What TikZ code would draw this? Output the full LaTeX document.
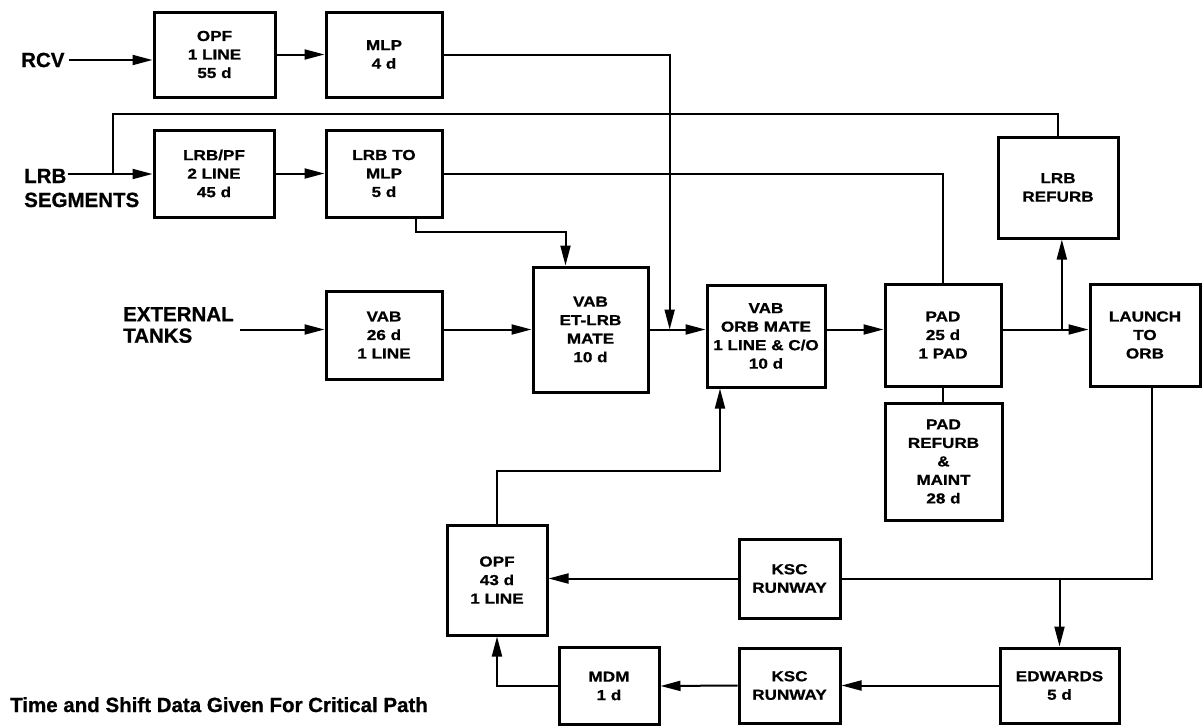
\documentclass[tikz,border=0pt]{standalone}
\usepackage{fontspec}
\setmainfont{Liberation Sans}
\newfontfamily\boxfont[FakeStretch=1.18,FakeBold=0.8]{Liberation Sans Bold}
\newfontfamily\lblfont[FakeBold=0.8]{Liberation Sans Bold}
\usetikzlibrary{positioning, calc, arrows.meta}

\tikzset{
  stage/.style={draw, line width=3pt, inner sep=2pt, align=center,
                font=\boxfont\fontsize{14.5}{18.5}\selectfont},
  flow/.style={line width=2pt, -{Triangle[length=20pt,width=10pt]}},
  link/.style={line width=2pt},
  lbl/.style={inner sep=0pt, font=\lblfont\fontsize{20.5}{21.5}\selectfont},
}

\begin{document}
\begin{tikzpicture}[x=1pt, y=-1pt]
\useasboundingbox (0,0) rectangle (1203,726);

% inputs
\node[lbl, anchor=west] (rcv) at (21,60) {RCV};
\node[lbl, anchor=base west] (lrb) at (24,183) {LRB};
\node[lbl, anchor=base west] (seg) at (24,207) {SEGMENTS};
\node[lbl, anchor=west, align=left] (ext) at (123,325) {EXTERNAL\\TANKS};

% stages
\node[stage, minimum width=121pt, minimum height=85pt] (opfa) at (214.5,54.5) {OPF\\1 LINE\\55 d};
\node[stage, minimum width=116pt, minimum height=85pt] (mlp) at (384,54.5) {MLP\\4 d};
\node[stage, minimum width=120pt, minimum height=87pt] (lrbpf) at (214,173.5) {LRB/PF\\2 LINE\\45 d};
\node[stage, minimum width=116pt, minimum height=87pt] (lrbmlp) at (384,173.5) {LRB TO\\MLP\\5 d};
\node[stage, minimum width=116pt, minimum height=88pt] (vabet) at (384,335) {VAB\\26 d\\1 LINE};
\node[stage, minimum width=115pt, minimum height=125pt] (etlrb) at (590.5,329.5) {VAB\\ET-LRB\\MATE\\10 d};
\node[stage, minimum width=118pt, minimum height=102pt] (orbmate) at (766,336) {VAB\\ORB MATE\\1 LINE \& C/O\\10 d};
\node[stage, minimum width=116pt, minimum height=102pt] (pad) at (943,335) {PAD\\25 d\\1 PAD};
\node[stage, minimum width=120pt, minimum height=101pt] (lrbref) at (1058,187.5) {LRB\\REFURB};
\node[stage, minimum width=110pt, minimum height=102pt] (launch) at (1145,335) {LAUNCH\\TO\\ORB};
\node[stage, minimum width=117pt, minimum height=117pt] (padref) at (943.5,461.5) {PAD\\REFURB\\\&\\MAINT\\28 d};
\node[stage, minimum width=101pt, minimum height=79pt] (ksca) at (789.5,578.5) {KSC\\RUNWAY};
\node[stage, minimum width=100pt, minimum height=110pt] (opfb) at (497,580) {OPF\\43 d\\1 LINE};
\node[stage, minimum width=119pt, minimum height=75pt] (edw) at (1059.5,685.5) {EDWARDS\\5 d};
\node[stage, minimum width=101pt, minimum height=75pt] (kscb) at (789.5,685.5) {KSC\\RUNWAY};
\node[stage, minimum width=100pt, minimum height=77pt] (mdm) at (609,686) {MDM\\1 d};

\node[lbl, anchor=base west] (note) at (10,712) {Time and Shift Data Given For Critical Path};

% junctions
\coordinate (lrbsplit) at (113,174);
\coordinate (extout) at ([xshift=6pt]ext.east);
\coordinate (etjoin) at ($(etlrb.east)!0.36!(etlrb.east -| orbmate.west)$);
\coordinate (padjoin) at ($(pad.east |- etjoin)!0.69!(launch.west |- etjoin)$);
\coordinate (rwjoin) at (edw.north |- ksca.east);

% top rows
\draw[flow] ([xshift=4pt]rcv.east) -- (rcv.east -| opfa.west);
\draw[flow] (opfa.east |- mlp.east) -- (mlp.west);
\draw[flow] ([xshift=1pt]lrb.east |- lrbsplit) -- (lrbsplit -| lrbpf.west);
\draw[flow] (lrbpf.east) -- (lrbmlp.west);
\draw[link] (lrbsplit) -- ++(0,-60) -| (lrbref.north);
\draw[flow] (mlp.east) -| (etjoin);
\draw[link] (lrbmlp.east) -| (pad.north);
\draw[flow] ([xshift=32pt]lrbmlp.south) -- ++(0,13) -| ([xshift=-25pt]etlrb.north);

% main line
\draw[flow] (extout |- etjoin) -- (vabet.west |- etjoin);
\draw[flow] (vabet.east |- etjoin) -- (etlrb.west |- etjoin);
\draw[flow] (etlrb.east |- etjoin) -- (orbmate.west |- etjoin);
\draw[flow] (orbmate.east |- etjoin) -- (pad.west |- etjoin);
\draw[flow] (pad.east |- etjoin) -- (launch.west |- etjoin);
\draw[flow] (padjoin) -- (padjoin |- lrbref.south);
\draw[link] (pad.south) -- (pad.south |- padref.north);

% return loop
\draw[link] ([xshift=7pt]launch.south) |- (ksca.east);
\draw[flow] (rwjoin) -- (edw.north);
\draw[flow] (ksca.west) -- (ksca.west -| opfb.east);
\draw[flow] (edw.west) -- (kscb.east);
\draw[flow] (kscb.west) -- (mdm.east);
\draw[flow] (mdm.west) -| (opfb.south);
\draw[flow] (opfb.north) -- ++(0,-53) -| ([xshift=-46pt]orbmate.south);
\end{tikzpicture}
\end{document}
